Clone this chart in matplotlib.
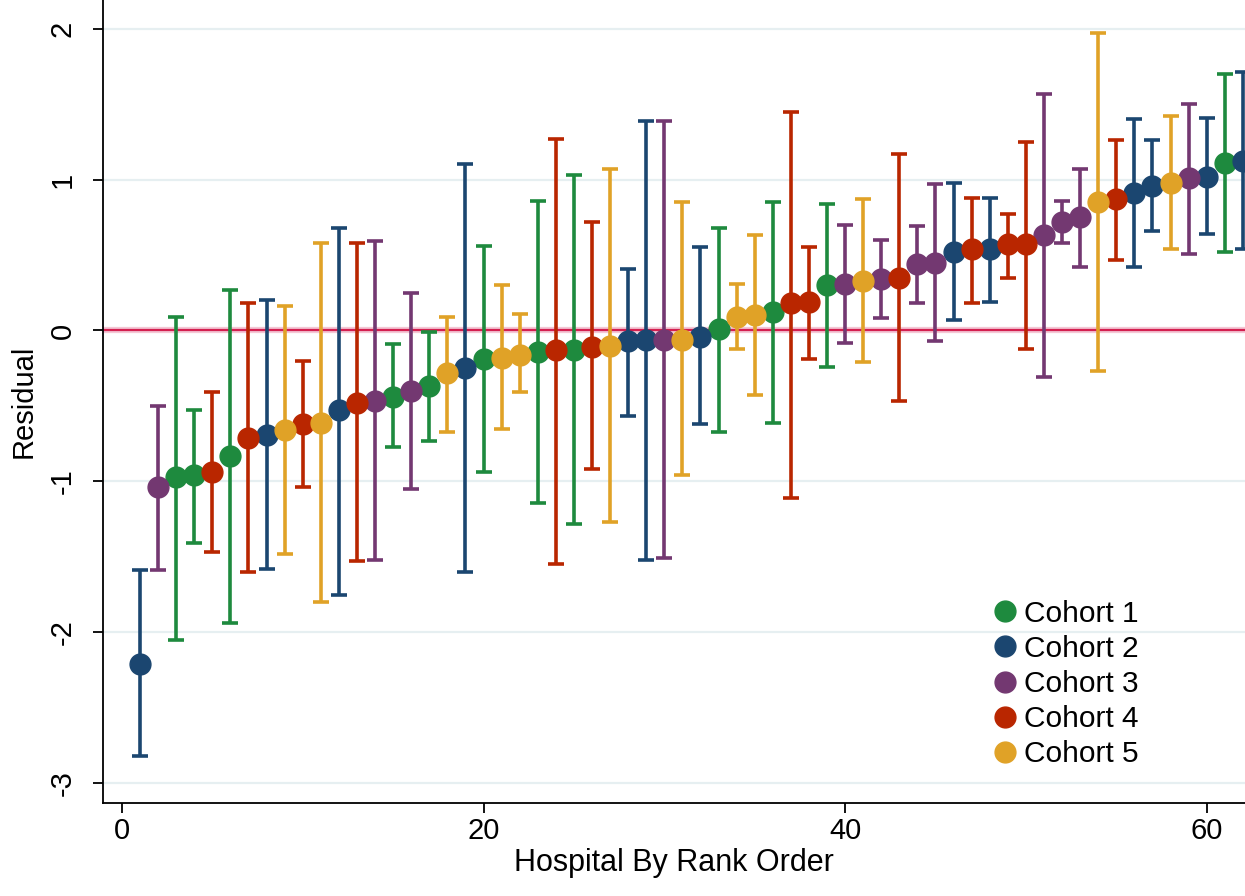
import matplotlib
matplotlib.use('Agg')
import matplotlib.pyplot as plt
from matplotlib.lines import Line2D
import numpy as np

plt.rcParams['font.family'] = ['Liberation Sans', 'DejaVu Sans']
plt.rcParams['axes.unicode_minus'] = False

# hospital residuals with 95% intervals, sorted by rank
rank = np.arange(1, 63)
cohort = [2, 3, 1, 1, 4, 1, 4, 2, 5, 4,
          5, 2, 4, 3, 1, 3, 1, 5, 2, 1,
          5, 5, 1, 4, 1, 4, 5, 2, 2, 3,
          5, 2, 1, 5, 5, 1, 4, 4, 1, 3,
          5, 3, 4, 3, 3, 2, 4, 2, 4, 4,
          3, 3, 3, 5, 4, 2, 2, 5, 3, 2,
          1, 2]
resid = [-2.21, -1.04, -0.97, -0.96, -0.94, -0.83, -0.71, -0.69, -0.66, -0.62,
         -0.61, -0.53, -0.48, -0.47, -0.44, -0.40, -0.37, -0.28, -0.25, -0.19,
         -0.18, -0.16, -0.14, -0.13, -0.13, -0.11, -0.10, -0.07, -0.06, -0.06,
         -0.06, -0.04, 0.01, 0.09, 0.10, 0.12, 0.18, 0.19, 0.30, 0.31,
         0.33, 0.34, 0.35, 0.44, 0.45, 0.52, 0.54, 0.54, 0.57, 0.57,
         0.63, 0.72, 0.75, 0.85, 0.87, 0.91, 0.96, 0.98, 1.01, 1.02,
         1.11, 1.12]
lower = [-2.82, -1.59, -2.05, -1.41, -1.47, -1.94, -1.60, -1.58, -1.48, -1.04,
         -1.80, -1.75, -1.53, -1.52, -0.77, -1.05, -0.73, -0.67, -1.60, -0.94,
         -0.65, -0.41, -1.14, -1.55, -1.28, -0.92, -1.27, -0.57, -1.52, -1.51,
         -0.96, -0.62, -0.67, -0.12, -0.43, -0.61, -1.11, -0.19, -0.24, -0.08,
         -0.21, 0.08, -0.47, 0.18, -0.07, 0.07, 0.18, 0.19, 0.35, -0.12,
         -0.31, 0.58, 0.42, -0.27, 0.47, 0.42, 0.66, 0.54, 0.51, 0.64,
         0.52, 0.54]
upper = [-1.59, -0.50, 0.09, -0.53, -0.41, 0.27, 0.18, 0.20, 0.16, -0.20,
         0.58, 0.68, 0.58, 0.59, -0.09, 0.25, -0.01, 0.09, 1.10, 0.56,
         0.30, 0.11, 0.86, 1.27, 1.03, 0.72, 1.07, 0.41, 1.39, 1.39,
         0.85, 0.55, 0.68, 0.31, 0.63, 0.85, 1.45, 0.55, 0.84, 0.70,
         0.87, 0.60, 1.17, 0.69, 0.97, 0.98, 0.88, 0.88, 0.77, 1.25,
         1.57, 0.86, 1.07, 1.97, 1.26, 1.40, 1.26, 1.42, 1.50, 1.41,
         1.70, 1.71]

names = ['Cohort 1', 'Cohort 2', 'Cohort 3', 'Cohort 4', 'Cohort 5']
colors = ['#1e8a3e', '#1b4670', '#733871', '#b92600', '#e0a227']

cohort = np.array(cohort)
resid = np.array(resid)
lower = np.array(lower)
upper = np.array(upper)

fig = plt.figure(figsize=(12.45, 8.96), dpi=100)
ax = fig.add_axes([0.0827, 0.104, 0.917, 0.896])

for c in range(1, 6):
    m = cohort == c
    ax.errorbar(rank[m], resid[m],
                yerr=[resid[m] - lower[m], upper[m] - resid[m]],
                fmt='o', color=colors[c - 1], ms=15, elinewidth=2.6,
                capsize=5.8, capthick=2.6, zorder=3)

ax.axhline(0, color='#d8205a', lw=4.5, alpha=0.25, zorder=2)
ax.axhline(0, color='#d41f4f', lw=1.6, zorder=2)

ax.set_xlim(-1.05, 62.1)
ax.set_ylim(-3.13, 2.19)
ax.set_xticks([0, 20, 40, 60])
ax.set_yticks([-3, -2, -1, 0, 1, 2])
ax.yaxis.grid(True, color='#e6eff1', lw=1.6)
ax.set_axisbelow(True)

for s in ['top', 'right']:
    ax.spines[s].set_visible(False)
for s in ['left', 'bottom']:
    ax.spines[s].set_linewidth(1.3)

ax.tick_params(axis='both', labelsize=21, length=7, width=1.3, direction='out')
ax.tick_params(axis='y', pad=12)
for lab in ax.get_yticklabels():
    lab.set_rotation(90)
    lab.set_va('center')

ax.set_xlabel('Hospital By Rank Order', fontsize=22, labelpad=2)
ax.set_ylabel('Residual', fontsize=21, labelpad=8)

handles = [Line2D([], [], ls='none', marker='o', ms=15, color=col) for col in colors]
ax.legend(handles, names, loc='lower left', bbox_to_anchor=(0.774, 0.043),
          frameon=False, fontsize=21.5, handletextpad=0.05, labelspacing=0.24,
          handlelength=1.2, borderaxespad=0, borderpad=0)

fig.savefig('out.png', dpi=100)
